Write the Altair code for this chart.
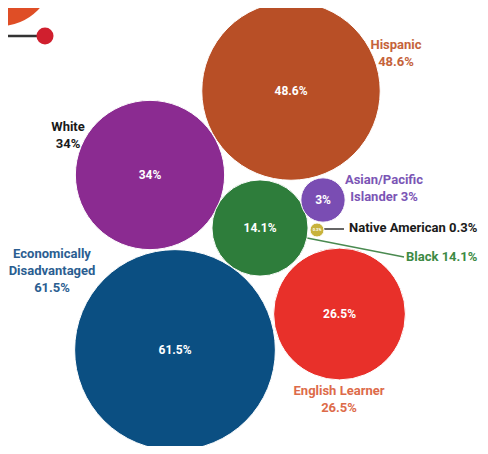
import altair as alt
import pandas as pd

# ---- data values ----
categories = ["Hispanic", "White", "Economically Disadvantaged", "English Learner",
              "Black", "Asian/Pacific Islander", "Native American"]
values = [48.6, 34, 61.5, 26.5, 14.1, 3, 0.3]
inner_labels = ["48.6%", "34%", "61.5%", "26.5%", "14.1%", "3%", "0.3%"]

# ---- layout (bubble centres, chart coordinates) ----
bubble_x = [283, 142, 167, 331.5, 252, 315, 309]
bubble_y = [83, 167, 342, 306, 220, 192, 222]
fill_colors = ["#B84F26", "#8B2B91", "#0B4F82", "#E8302A", "#2E7D3B", "#7A4DB3", "#C8B23C"]
inner_sizes = [12, 12, 12, 12, 12, 12, 4]

# ---- outer labels ----
outer_text = ["Hispanic\n48.6%", "White\n34%", "Economically\nDisadvantaged\n61.5%",
              "English Learner\n26.5%", "Black 14.1%", "Asian/Pacific\nIslander 3%",
              "Native American 0.3%"]
outer_x = [388, 60, 44, 331, 398, 376, 341]
outer_y = [31, 113, 240, 377, 243, 166, 214]
outer_align = ["center", "center", "center", "center", "left", "center", "left"]
outer_colors = ["#C5633B", "#1A1A1A", "#2B5E91", "#DD6B4A", "#3C8A44", "#7B55B5", "#1A1A1A"]

# ---- connector lines ----
conn_x = [316, 294]
conn_y = [221, 229]
conn_x2 = [336, 396]
conn_y2 = [221, 249]
conn_colors = ["#333333", "#4A8A50"]

W, H = 472, 438
FONT = "Roboto"

xs = alt.Scale(domain=[0, W], range=[0, W])
ys = alt.Scale(domain=[0, H], range=[0, H])

bubbles = pd.DataFrame({
    "cat": categories, "val": values, "x": bubble_x, "y": bubble_y,
    "fill": fill_colors, "lab": inner_labels, "fs": inner_sizes,
})
outer = pd.DataFrame({
    "t": outer_text, "x": outer_x, "y": outer_y, "al": outer_align, "c": outer_colors,
})
conns = pd.DataFrame({"x": conn_x, "y": conn_y, "x2": conn_x2, "y2": conn_y2, "c": conn_colors})

circles = alt.Chart(bubbles).mark_circle(opacity=1, stroke="white", strokeWidth=1).encode(
    x=alt.X("x:Q", scale=xs, axis=None),
    y=alt.Y("y:Q", scale=ys, axis=None),
    size=alt.Size("val:Q", scale=alt.Scale(type="linear", domain=[0, 61.5], range=[0, 40300], zero=True), legend=None),
    color=alt.Color("fill:N", scale=None),
)

inner = alt.Chart(bubbles).mark_text(font=FONT, fontWeight="bold", color="white", baseline="middle").encode(
    x=alt.X("x:Q", scale=xs, axis=None),
    y=alt.Y("y:Q", scale=ys, axis=None),
    text="lab:N",
    size=alt.Size("fs:Q", scale=None, legend=None),
)

lines = alt.Chart(conns).mark_rule(strokeWidth=1.5).encode(
    x=alt.X("x:Q", scale=xs, axis=None),
    y=alt.Y("y:Q", scale=ys, axis=None),
    x2="x2:Q", y2="y2:Q",
    color=alt.Color("c:N", scale=None),
)

def outer_layer(align):
    return alt.Chart(outer).transform_filter(alt.datum.al == align).mark_text(
        font=FONT, fontWeight="bold", fontSize=13, lineBreak="\n", lineHeight=17,
        baseline="top", align=align,
    ).encode(
        x=alt.X("x:Q", scale=xs, axis=None),
        y=alt.Y("y:Q", scale=ys, axis=None),
        text="t:N",
        color=alt.Color("c:N", scale=None),
    )

# decorative header elements (top-left corner)
deco_circle = alt.Chart(pd.DataFrame({"a": [0]})).mark_circle(
    color="#DF4E26", opacity=1, size=11236).encode(x=alt.value(-8), y=alt.value(-35))
deco_line = alt.Chart(pd.DataFrame({"a": [0]})).mark_rule(
    color="#333333", strokeWidth=2.5).encode(x=alt.value(-8), x2=alt.value(32), y=alt.value(28))
deco_dot = alt.Chart(pd.DataFrame({"a": [0]})).mark_circle(
    color="#D01F2E", opacity=1, size=290).encode(x=alt.value(37), y=alt.value(28))

chart = alt.layer(
    deco_circle, deco_line, deco_dot,
    lines, circles, inner, outer_layer("center"), outer_layer("left"),
).properties(
    width=W, height=H, padding=0, autosize=alt.AutoSizeParams(type="none"),
    background="white",
).configure_view(stroke=None)

chart.save("out.html", embed_options={"renderer": "svg", "actions": False})
